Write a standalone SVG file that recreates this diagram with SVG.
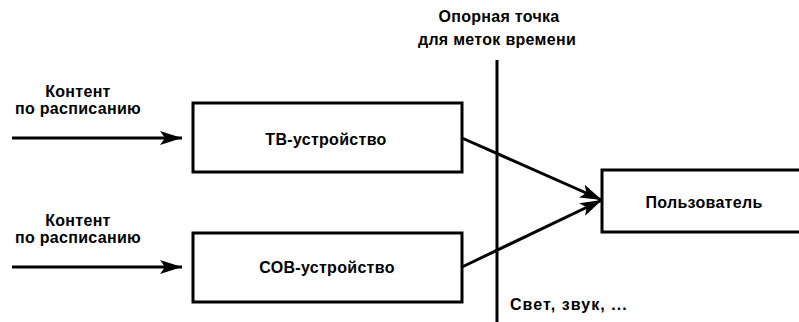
<svg xmlns="http://www.w3.org/2000/svg" width="799" height="322" viewBox="0 0 799 322">
<style>
.box{fill:#fff;stroke:#000;stroke-width:3}
.ln{fill:none;stroke:#000;stroke-width:3}
.t{font-family:"Liberation Sans",Arial,sans-serif;font-size:16px;font-weight:bold;fill:#000;letter-spacing:0.3px}
.m{text-anchor:middle}
</style>
<defs>
<marker id="ah" viewBox="0 0 22 14" refX="22" refY="7" markerWidth="22" markerHeight="14" markerUnits="userSpaceOnUse" orient="auto">
<path d="M0,0 L22,7 L0,14 L5,7 Z" fill="#000"/>
</marker>
</defs>
<rect width="799" height="322" fill="#fff"/>
<g id="labels">
<text class="t m" x="78" y="97">Контент</text>
<text class="t m" x="78" y="114">по расписанию</text>
<text class="t m" x="78" y="226">Контент</text>
<text class="t m" x="78" y="243">по расписанию</text>
<text class="t m" x="499" y="22">Опорная точка</text>
<text class="t m" x="497" y="45">для меток времени</text>
<text class="t" x="510" y="310" textLength="117" lengthAdjust="spacing">Свет, звук, ...</text>
</g>
<g id="connectors">
<line class="ln" x1="497" y1="60" x2="497" y2="322"/>
<line class="ln" x1="12" y1="138" x2="182" y2="138" marker-end="url(#ah)"/>
<line class="ln" x1="12" y1="267" x2="182" y2="267" marker-end="url(#ah)"/>
<line class="ln" x1="462" y1="138" x2="602" y2="200" marker-end="url(#ah)"/>
<line class="ln" x1="462" y1="267" x2="602" y2="200" marker-end="url(#ah)"/>
</g>
<g id="tv">
<rect class="box" x="193" y="103" width="269" height="69"/>
<text class="t m" x="326" y="145">ТВ-устройство</text>
</g>
<g id="sov">
<rect class="box" x="193" y="233" width="269" height="69"/>
<text class="t m" x="327" y="273">СОВ-устройство</text>
</g>
<g id="user">
<rect class="box" x="602" y="170" width="210" height="62"/>
<text class="t m" x="704" y="208">Пользователь</text>
</g>
</svg>
